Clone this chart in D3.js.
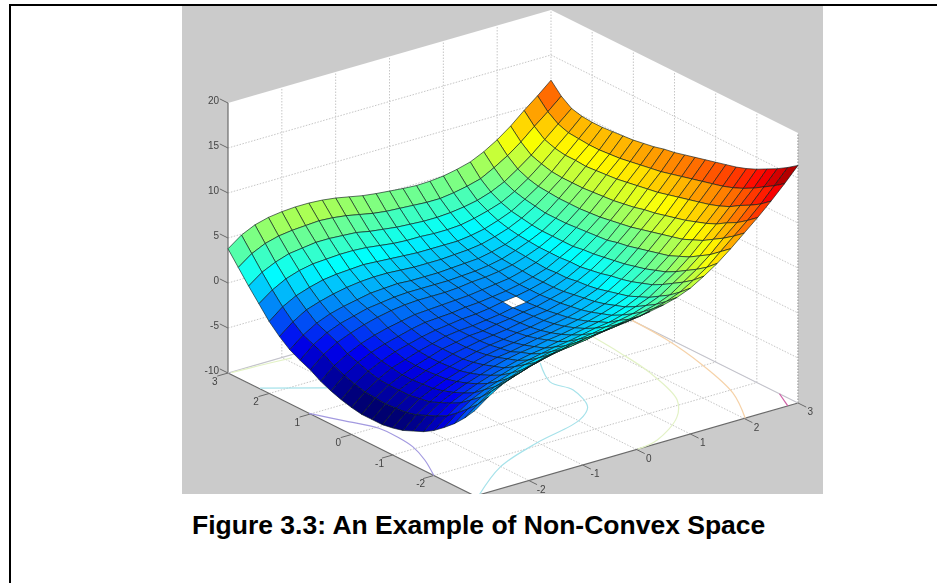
<!DOCTYPE html>
<html><head><meta charset="utf-8">
<script src="https://cdn.jsdelivr.net/npm/d3@7"></script>
<style>html,body{margin:0;padding:0;background:#fff}svg{display:block}</style></head>
<body><svg id="c" width="937" height="583"></svg>
<script>
const xTicks=[-2,-1,0,1,2,3];
const yTicks=[-2,-1,0,1,2,3];
const zTicks=[-10,-5,0,5,10,15,20];
const captionText="Figure 3.3: An Example of Non-Convex Space";
const gridX=[-3,-2.75,-2.5,-2.25,-2,-1.75,-1.5,-1.25,-1,-.75,-.5,-.25,0,.25,.5,.75,1,1.25,1.5,1.75,2,2.25,2.5,2.75,3];
const gridY=gridX.slice();
// zValues[j][i]: height at y=gridY[j], x=gridX[i]
const zValues=[
[-.5,.6,1.5,2.1,2.6,3,3.4,3.7,3.9,4.1,4.3,4.5,4.7,4.9,5.2,5.6,6.2,7.1,8.1,9.3,10.6,11.9,13.3,14.8,16.4],
[-1.9,-.8,.2,.8,1.3,1.8,2.2,2.5,2.7,2.9,3.2,3.4,3.6,3.8,4.2,4.6,5.2,6.1,7.1,8.4,9.7,11,12.4,14,15.6],
[-3.1,-1.9,-1,-.3,.2,.7,1.1,1.5,1.7,2,2.2,2.4,2.7,2.9,3.3,3.7,4.3,5.3,6.3,7.5,8.9,10.2,11.7,13.3,14.9],
[-4.1,-2.9,-1.9,-1.2,-.7,-.2,.3,.6,.9,1.1,1.4,1.6,1.9,2.2,2.5,3,3.6,4.6,5.6,6.8,8.2,9.6,11.1,12.6,14.3],
[-5,-3.8,-2.8,-2.1,-1.5,-1,-.5,-.2,.1,.4,.6,.9,1.2,1.4,1.8,2.3,2.9,3.9,4.9,6.1,7.5,8.9,10.4,12,13.7],
[-5.7,-4.4,-3.4,-2.7,-2.1,-1.6,-1.2,-.8,-.5,-.3,0,.3,.6,.9,1.2,1.7,2.4,3.3,4.3,5.6,7,8.4,9.9,11.5,13.2],
[-6.2,-4.9,-3.9,-3.2,-2.6,-2.1,-1.6,-1.2,-.9,-.7,-.4,-.2,.1,.4,.8,1.3,1.9,2.9,3.9,5.1,6.5,8,9.5,11.1,12.8],
[-6.7,-5.4,-4.4,-3.6,-3,-2.5,-2,-1.6,-1.4,-1.1,-.8,-.6,-.3,0,.4,.9,1.6,2.5,3.5,4.8,6.2,7.6,9.2,10.8,12.5],
[-7,-5.7,-4.6,-3.9,-3.3,-2.8,-2.3,-1.9,-1.6,-1.4,-1.1,-.9,-.6,-.3,.1,.6,1.3,2.2,3.2,4.5,5.9,7.3,8.9,10.5,12.2],
[-7.2,-5.8,-4.8,-4,-3.4,-2.9,-2.5,-2.1,-1.8,-1.6,-1.3,-1.1,-.8,-.5,-.1,.4,1,2,2.9,4.2,5.6,7,8.6,10.2,11.9],
[-7.2,-5.9,-4.8,-4.1,-3.5,-3,-2.5,-2.2,-1.9,-1.7,-1.5,-1.2,-.9,-.7,-.3,.2,.8,1.7,2.7,3.9,5.3,6.7,8.3,9.9,11.6],
[-7.2,-5.8,-4.8,-4.1,-3.5,-3,-2.5,-2.2,-1.9,-1.8,-1.5,-1.3,-1,-.8,-.4,0,.7,1.5,2.5,3.7,5,6.5,8,9.6,11.3],
[-7,-5.7,-4.7,-3.9,-3.4,-2.9,-2.5,-2.1,-1.9,-1.8,-1.6,-1.4,-1.1,-.9,-.5,-.1,.5,1.3,2.3,3.4,4.8,6.2,7.8,9.3,11],
[-6.7,-5.4,-4.4,-3.7,-3.1,-2.7,-2.3,-2,-1.8,-1.6,-1.5,-1.3,-1,-.8,-.5,-.1,.5,1.3,2.2,3.3,4.6,6,7.6,9.1,10.8],
[-6.3,-5,-4,-3.3,-2.8,-2.4,-2,-1.7,-1.6,-1.5,-1.3,-1.2,-1,-.8,-.5,-.1,.4,1.2,2,3.2,4.4,5.8,7.4,8.9,10.5],
[-5.8,-4.5,-3.6,-2.9,-2.4,-2,-1.7,-1.4,-1.3,-1.2,-1.1,-1,-.8,-.6,-.4,0,.5,1.2,2,3.1,4.3,5.7,7.2,8.7,10.3],
[-5.1,-3.8,-2.9,-2.3,-1.8,-1.4,-1.1,-.9,-.8,-.8,-.8,-.7,-.5,-.4,-.2,.1,.6,1.2,2,3,4.2,5.6,7.1,8.5,10.1],
[-4.6,-3.3,-2.4,-1.8,-1.4,-1,-.8,-.6,-.5,-.5,-.5,-.5,-.4,-.3,-.1,.2,.7,1.3,2,3,4.2,5.5,7,8.4,10],
[-4,-2.8,-1.9,-1.3,-.9,-.6,-.3,-.2,-.1,-.2,-.2,-.2,-.1,0,.1,.4,.8,1.4,2.1,3,4.2,5.5,6.9,8.3,9.9],
[-3.1,-1.9,-1,-.5,-.1,.2,.4,.5,.5,.4,.3,.3,.3,.4,.5,.7,1.1,1.6,2.3,3.2,4.3,5.5,7,8.3,9.8],
[-2,-.8,0,.5,.9,1.1,1.2,1.3,1.2,1.1,1,.9,.9,.9,.9,1.1,1.4,1.9,2.5,3.4,4.4,5.6,7,8.4,9.8],
[-.6,.5,1.3,1.8,2.1,2.2,2.3,2.3,2.2,2,1.8,1.7,1.7,1.6,1.6,1.7,2,2.4,2.9,3.7,4.7,5.9,7.2,8.5,9.9],
[.8,1.9,2.6,3.1,3.3,3.5,3.5,3.4,3.3,3,2.8,2.6,2.5,2.4,2.4,2.5,2.7,3,3.5,4.2,5.2,6.3,7.6,8.9,10.2],
[2.3,3.4,4.1,4.5,4.7,4.8,4.9,4.8,4.6,4.3,4,3.8,3.7,3.6,3.5,3.5,3.7,4,4.4,5.2,6.1,7.2,8.5,9.7,11],
[3.8,4.9,5.6,6,6.2,6.3,6.3,6.2,6,5.7,5.4,5.2,5.05,4.9,4.8,4.85,5,5.3,5.7,6.4,7.3,8.4,9.7,10.9,12.2]
];
const holeCell=[12,12];
// floor contours, as [x,y]
const contourLevels=[-5,0,0,5,5,10,15];
const contourLines=[
[[-3,1.03],[-2.76,.48],[-2.53,-.05],[-2.52,-.5],[-2.57,-.93],[-2.74,-1.44],[-3,-2]],
[[-2.98,2.25],[-2.19,1.66]],
[[.91,.53],[.58,-.14],[.66,-.6],[.43,-1.25],[.03,-1.58],[-1.02,-1.91],[-2.02,-2.33],[-2.92,-3]],
[[-2.95,2.98],[-2.45,2.95],[-1.89,2.9]],
[[2.15,.86],[2.09,.13],[1.97,-.76],[1.65,-1.83],[1.24,-2.36],[.47,-2.89],[.02,-3]],
[[3,1.03],[2.95,.11],[2.79,-.89],[2.47,-2.11],[2.02,-3]],
[[3,-2.55],[2.81,-3]]
];
const contourColors=["#a39ae0","#a6e2ea","#a6e2ea","#e3f2c6","#e3f2c6","#f6d2a8","#cf5fa5"];

const svg=d3.select("#c");
const defs=svg.append("defs");
defs.append("filter").attr("id","soft").attr("x","-5%").attr("y","-5%").attr("width","110%").attr("height","110%")
  .append("feGaussianBlur").attr("stdDeviation",.6);
defs.append("clipPath").attr("id","clip").append("rect").attr("x",182).attr("y",6).attr("width",641).attr("height",488);

// page frame
svg.append("rect").attr("x",9).attr("y",4).attr("width",928).attr("height",2).attr("fill","#000");
svg.append("rect").attr("x",9).attr("y",4).attr("width",2).attr("height",579).attr("fill","#000");
svg.append("rect").attr("x",182).attr("y",6).attr("width",641).attr("height",488).attr("fill","#cbcbcb");

// oblique projection through three linear scales
const sx=d3.scaleLinear().domain([-3,3]).range([0,1]);
const sy=d3.scaleLinear().domain([-3,3]).range([0,1]);
const sz=d3.scaleLinear().domain([-10,20]).range([0,270]);
const front=[475,496],xVec=[323,-93],yVec=[-247,-123];
const P=(x,y,z=-10)=>[front[0]+sx(x)*xVec[0]+sy(y)*yVec[0], front[1]+sx(x)*xVec[1]+sy(y)*yVec[1]-sz(z)];

const zMin=d3.min(zValues.flat()),zMax=d3.max(zValues.flat());
const t=d3.scaleLinear().domain([0,1]).range([zMin,zMax]);
const jet=d3.scaleLinear()
  .domain([.03,.16,.375,.625,.875,1].map(t))
  .range(["#000070","#0000f0","#00ffff","#ffff00","#ff0000","#800000"]);

const g=svg.append("g").attr("clip-path","url(#clip)").append("g").attr("filter","url(#soft)");
const poly=pts=>"M"+pts.map(p=>p[0].toFixed(2)+","+p[1].toFixed(2)).join("L")+"Z";
// walls and floor
g.append("path").attr("d",poly([P(-3,3,-10),P(3,3,-10),P(3,3,20),P(-3,3,20)])).attr("fill","#fff");
g.append("path").attr("d",poly([P(3,3,-10),P(3,-3,-10),P(3,-3,20),P(3,3,20)])).attr("fill","#fff");
g.append("path").attr("d",poly([P(-3,-3),P(3,-3),P(3,3),P(-3,3)])).attr("fill","#fff");

const grid=[];
xTicks.filter(v=>v<3).forEach(v=>{grid.push([P(v,3,-10),P(v,3,20)]);grid.push([P(v,-3),P(v,3)]);});
yTicks.filter(v=>v<3).forEach(v=>{grid.push([P(3,v,-10),P(3,v,20)]);grid.push([P(-3,v),P(3,v)]);});
grid.push([P(3,3,-10),P(3,3,20)]);
zTicks.filter(v=>v>-10&&v<20).forEach(v=>{grid.push([P(-3,3,v),P(3,3,v)]);grid.push([P(3,3,v),P(3,-3,v)]);});
g.selectAll("path.grid").data(grid).join("path").attr("class","grid")
  .attr("d",d=>"M"+d[0]+"L"+d[1]).attr("stroke","#c6c6c6").attr("stroke-width",1).attr("stroke-dasharray","1.5 1.5").attr("fill","none");

// box edges
const axisLines=[[P(-3,3,-10),P(-3,3,20)],[P(-3,3,-10),P(-3,-3,-10)],[P(-3,-3,-10),P(3,-3,-10)]];
g.selectAll("path.ax").data(axisLines).join("path").attr("class","ax").attr("d",d=>"M"+d[0]+"L"+d[1]).attr("stroke","#6a6a6a").attr("stroke-width",1.2);
const backLines=[[P(-3,3,-10),P(3,3,-10)],[P(3,3,-10),P(3,-3,-10)]];
g.selectAll("path.bk").data(backLines).join("path").attr("class","bk").attr("d",d=>"M"+d[0]+"L"+d[1]).attr("stroke","#c4c4cc").attr("stroke-width",1.2);
g.append("path").attr("d","M"+P(3,-3,-10)+"L"+P(3,-3,20)).attr("stroke","#aaa").attr("stroke-dasharray","1.5 1.5").attr("stroke-width",1.5);

// ticks
const tickData=[
 ...zTicks.map(v=>[P(-3,3,v),P(-3,3.2,v)]),
 ...yTicks.map(v=>[P(-3,v),P(-3.2,v)]),
 ...xTicks.map(v=>[P(v,-3),P(v,-3.2)])
];
g.selectAll("path.tk").data(tickData).join("path").attr("class","tk").attr("d",d=>"M"+d[0]+"L"+d[1]).attr("stroke","#6a6a6a").attr("stroke-width",1);

// contours
const line=d3.line().curve(d3.curveCatmullRom.alpha(.5));
g.selectAll("path.ct").data(contourLines).join("path").attr("class","ct")
  .attr("d",d=>line(d.map(p=>P(p[0],p[1])))).attr("fill","none").attr("stroke-width",1.2)
  .attr("stroke",(d,i)=>contourColors[i]);

// surface, far cells first
const cells=[];
for(let i=gridX.length-2;i>=0;i--)for(let j=gridY.length-2;j>=0;j--){
  if(i===holeCell[0]&&j===holeCell[1])continue;
  const zs=[zValues[j][i],zValues[j][i+1],zValues[j+1][i+1],zValues[j+1][i]];
  cells.push({pts:[P(gridX[i],gridY[j],zs[0]),P(gridX[i+1],gridY[j],zs[1]),P(gridX[i+1],gridY[j+1],zs[2]),P(gridX[i],gridY[j+1],zs[3])],z:d3.mean(zs)});
}
g.selectAll("path.cell").data(cells).join("path").attr("class","cell")
  .attr("d",d=>poly(d.pts)).attr("fill",d=>jet(d.z))
  .attr("stroke","#0a1a1a").attr("stroke-opacity",.62).attr("stroke-width",1).attr("stroke-linejoin","round");

// tick labels
const lab=svg.append("g").attr("clip-path","url(#clip)").attr("filter","url(#soft)")
  .attr("font-family","Liberation Sans, Arial, sans-serif").attr("font-size",10).attr("fill","#444");
lab.selectAll("text.z").data(zTicks).join("text").attr("class","z").attr("text-anchor","end")
  .attr("x",d=>P(-3,3,d)[0]-9).attr("y",d=>P(-3,3,d)[1]+1).text(d=>d);
lab.selectAll("text.y").data(yTicks).join("text").attr("class","y").attr("text-anchor","middle")
  .attr("x",d=>P(-3.3,d)[0]+3).attr("y",d=>P(-3.3,d)[1]+7).text(d=>d);
lab.selectAll("text.x").data(xTicks).join("text").attr("class","x").attr("text-anchor","middle")
  .attr("x",d=>P(d,-3.3)[0]).attr("y",d=>P(d,-3.3)[1]+6).text(d=>d);

svg.append("text").attr("x",192).attr("y",534).attr("font-family","Liberation Sans, Arial, sans-serif")
  .attr("font-weight","bold").attr("font-size",26.5).attr("fill","#000").text(captionText);
</script></body></html>
